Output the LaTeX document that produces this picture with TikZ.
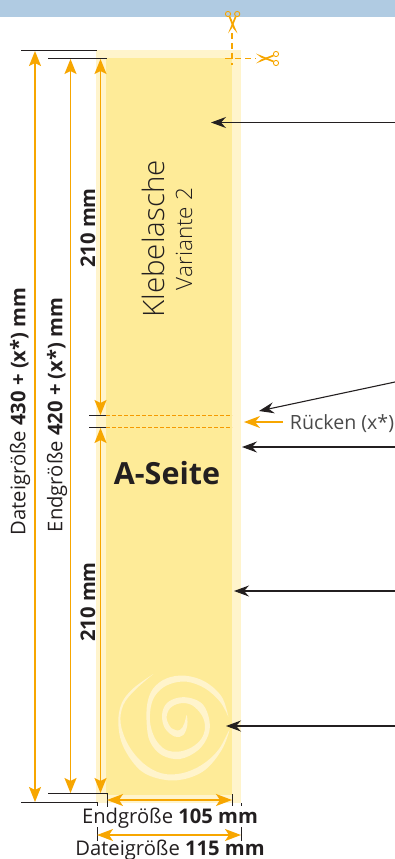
\documentclass[tikz,border=0pt]{standalone}
\usepackage{fontspec}
\setmainfont{Open Sans}
\newfontfamily\lightfont{Open Sans Light}
\usetikzlibrary{arrows.meta}
\definecolor{band}{HTML}{B0CBE2}
\definecolor{paleY}{HTML}{FFF4CC}
\definecolor{coreY}{HTML}{FEEB98}
\definecolor{orng}{HTML}{F7A600}
\definecolor{spineo}{HTML}{F59A00}
\definecolor{ink}{HTML}{231F20}
\definecolor{greytxt}{HTML}{4A4A4A}
\tikzset{
  x=1pt,y=-1pt,
  dim/.style={draw=orng,line width=1.5pt,{Stealth[length=15pt,width=12pt,inset=3pt]}-{Stealth[length=15pt,width=12pt,inset=3pt]}},
  dimh/.style={draw=orng,line width=1.5pt,{Stealth[length=16pt,width=12pt,inset=4pt]}-{Stealth[length=16pt,width=12pt,inset=4pt]}},
  callout/.style={draw=ink,line width=1.1pt,-{Stealth[length=15pt,width=11pt,inset=5pt]}},
  tick/.style={draw=ink,line width=1pt},
  cutline/.style={draw=orng,line width=1.4pt,dash pattern=on 6pt off 4pt},
  spineline/.style={draw=spineo,line width=1.8pt,dash pattern=on 4pt off 2pt},
  lab/.style={text=ink,inner sep=0pt,font=\fontsize{20.2}{22}\selectfont},
  rlab/.style={lab,rotate=90},
  ring/.style={draw=orng,line width=.9pt},
  blade/.style={fill=orng,draw=none},
  swirl/.style={fill=paleY,draw=none}
}
\begin{document}
\begin{tikzpicture}
\useasboundingbox (0,0) rectangle (395,859);
% sheet
\fill[band] (0,0) rectangle (395,17);
\fill[paleY] (96,50) rectangle (241,803);
\fill[coreY] (106,58) rectangle (232,795);
% swirl
\begin{scope}[shift={(90,660)},x=.3333pt,y=-.3333pt]
\fill[swirl] plot[smooth,tension=.6] coordinates {(190,42)(130,85)(95,130)(85,190)(100,260)(150,330)(215,358)(280,358)(345,330)(395,270)(418,210)(385,270)(335,315)(275,340)(215,340)(160,310)(115,255)(92,190)(100,135)(135,90)(190,42)} -- cycle;
\fill[swirl] plot[smooth,tension=.6] coordinates {(415,170)(395,110)(345,65)(285,47)(230,55)(190,85)(172,130)(170,190)(180,245)(215,285)(270,297)(325,270)(355,225)(358,180)(340,135)(305,115)(265,113)(230,130)(216,165)(225,205)(255,230)(280,225)(292,195)(290,165)(283,190)(270,210)(245,205)(230,175)(240,145)(270,130)(305,135)(335,165)(345,200)(335,235)(305,262)(265,275)(225,268)(195,235)(180,185)(185,130)(205,95)(240,72)(290,65)(345,85)(390,125)(415,170)} -- cycle;
\end{scope}
% coordinates
\coordinate (t1a) at (21,50.5); \coordinate (t1b) at (97,50.5);
\coordinate (t2a) at (48,59); \coordinate (t2b) at (107,59);
\coordinate (b1a) at (21,802); \coordinate (b1b) at (97,802);
\coordinate (b2a) at (48,793.5); \coordinate (b2b) at (107,793.5);
\coordinate (f1a) at (89,415.5); \coordinate (f1b) at (106,415.5); \coordinate (f1c) at (232,415.5);
\coordinate (f2a) at (89,427.5); \coordinate (f2b) at (106,427.5); \coordinate (f2c) at (232,427.5);
% reference lines
\draw[tick] (t1a) -- (t1b);
\draw[tick] (t2a) -- (t2b);
\draw[tick] (b1a) -- (b1b) -- ++(0,4);
\draw[tick] (b2a) -- (b2b) -- ++(0,13);
\draw[tick] (f1a) -- (f1b);
\draw[tick] (f2a) -- (f2b);
\draw[spineline] (f1b) -- (f1c);
\draw[spineline] (f2b) -- (f2c);
\coordinate (w1) at (232,794); \coordinate (w1e) at (232,806);
\coordinate (w2) at (241,803); \coordinate (w2e) at (241,806);
\draw[tick] (w1) -- (w1e);
\draw[tick] (w2) -- (w2e);
\coordinate (d1) at (97,827); \coordinate (d1e) at (97,841);
\coordinate (d2) at (241,827); \coordinate (d2e) at (241,841);
\draw[tick] (d1) -- (d1e);
\draw[tick] (d2) -- (d2e);
% dimension arrows
\draw[dim] (35,51) -- (35,802);
\draw[dim] (70.5,59) -- (70.5,793);
\draw[dim] (100.5,59) -- (100.5,415);
\draw[dim] (100.5,793) -- (100.5,428);
\draw[dimh] (107,800) -- (232,800);
\draw[dimh] (97,835) -- (241,835);
% callouts
\coordinate (c1) at (395,122.5); \coordinate (c1e) at (211,122.5);
\coordinate (c2) at (395,382); \coordinate (c2e) at (259,411);
\coordinate (c3) at (395,447); \coordinate (c3e) at (242,447);
\coordinate (c4) at (395,591); \coordinate (c4e) at (234,591);
\coordinate (c5) at (395,726); \coordinate (c5e) at (226,726);
\draw[callout] (c1) -- (c1e);
\draw[callout] (c2) -- (c2e);
\draw[callout] (c3) -- (c3e);
\draw[callout] (c4) -- (c4e);
\draw[callout] (c5) -- (c5e);
\coordinate (rs) at (283,422); \coordinate (re) at (244,422);
\draw[draw=orng,line width=1.5pt,-{Stealth[length=16pt,width=12pt,inset=5pt]}] (rs) -- (re);
% cut marks
\coordinate (cv1) at (232,33); \coordinate (cv2) at (232,65);
\coordinate (ch1) at (225,58.5); \coordinate (ch2) at (256,58.5);
\draw[cutline] (cv1) -- (cv2);
\draw[cutline] (ch1) -- (ch2);
% scissors vertical
\draw[ring] (228,14) circle (2.6);
\draw[ring] (237.2,14) circle (2.6);
\fill[blade] (228.6,16.5) -- (230.4,16.5) -- (237.5,33.5) -- (233,28) -- cycle;
\fill[blade] (236.6,16.5) -- (234.8,16.5) -- (228,33.5) -- (232,28) -- cycle;
% scissors horizontal
\draw[ring] (276,54) circle (2.6);
\draw[ring] (276,63) circle (2.6);
\fill[blade] (273.5,54.6) -- (273.5,56.4) -- (256,63.5) -- (261,59.5) -- cycle;
\fill[blade] (273.5,62.4) -- (273.5,60.6) -- (256,53.5) -- (261,57.5) -- cycle;
% labels
\node[rlab,xshift=.5pt] (dg) at (20,412) {Dateigröße \textbf{430 + (x*) mm}};
\node[rlab,xshift=.5pt] (eg) at (57,415.5) {Endgröße \textbf{420 + (x*) mm}};
\node[rlab] (m1) at (88,228) {\textbf{210 mm}};
\node[rlab] (m2) at (88,602) {\textbf{210 mm}};
\node[rotate=90,text=ink,inner sep=0pt,font=\lightfont\fontsize{29.5}{32}\selectfont] (kl) at (153,239) {Klebelasche};
\node[rotate=90,text=ink,inner sep=0pt,font=\lightfont\fontsize{22.5}{24}\selectfont] (va) at (184,239) {Variante 2};
\node[text=ink,inner sep=0pt,font=\bfseries\fontsize{30.5}{32}\selectfont] (as) at (167,473) {A-Seite};
\node[text=greytxt,inner sep=0pt,font=\fontsize{19.6}{22}\selectfont] (ru) at (342,423.5) {Rücken (x*)};
\node[lab] (e105) at (170,818) {Endgröße \textbf{105 mm}};
\node[lab] (d115) at (170,850) {Dateigröße \textbf{115 mm}};
\end{tikzpicture}
\end{document}
